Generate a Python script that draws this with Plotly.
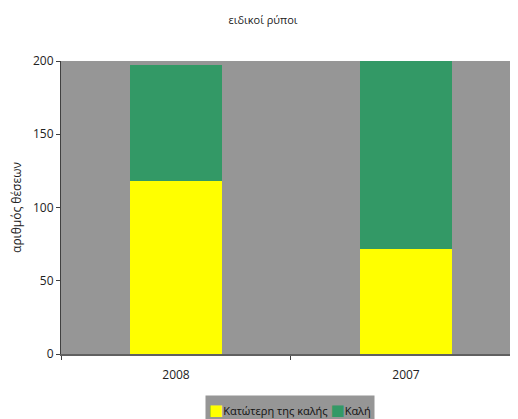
import plotly.graph_objects as go

categories = ["2008", "2007"]
below_good = [118, 72]
good = [79, 130]
series_names = ["Κατώτερη της καλής", "Καλή"]
series_colors = ["#FFFF00", "#339966"]
y_ticks = [0, 50, 100, 150, 200]

fig = go.Figure()
fig.add_trace(go.Bar(x=categories, y=below_good, name=series_names[0],
                     marker=dict(color=series_colors[0], line=dict(width=0)), width=0.4))
fig.add_trace(go.Bar(x=categories, y=good, name=series_names[1],
                     marker=dict(color=series_colors[1], line=dict(width=0)), width=0.4))

font = "Open Sans, DejaVu Sans, sans-serif"
legend_text = " ".join(
    f"<span style='color:{c};font-size:15px'>■</span>{n}" for n, c in zip(series_names, series_colors)
)
W, H = 510, 411
L, T, B = 53, 53, 65
PH = H - T - B
fig.update_layout(
    width=W, height=H,
    barmode="stack",
    paper_bgcolor="white",
    plot_bgcolor="#969696",
    margin=dict(l=L, r=0, t=T, b=B),
    font=dict(family=font, size=11, color="#222222"),
    title=dict(text="ειδικοί ρύποι", x=255/W, xanchor="center", y=1-12/H, yanchor="middle",
               font=dict(size=11, color="#222222")),
    showlegend=False,
    annotations=[dict(
        text=legend_text, xref="paper", yref="paper",
        x=(282-L)/(W-L), xanchor="center", y=-(401-(T+PH))/PH, yanchor="middle",
        showarrow=False, bgcolor="#969696", borderpad=3,
        font=dict(size=11, color="#111111"),
    )],
)
fig.update_xaxes(
    type="category", range=[-0.5, 1.487],
    showline=True, linecolor="#606060", linewidth=2,
    ticks="outside", tickson="boundaries", ticklen=4, tickcolor="#404040", tickwidth=1,
    showgrid=False, tickfont=dict(size=12, color="#222222"), ticklabelstandoff=9,
)
fig.update_yaxes(
    range=[0, 200], tickvals=y_ticks,
    showline=True, linecolor="#404040", linewidth=1,
    ticks="outside", ticklen=4, tickcolor="#404040",
    showgrid=False, zeroline=False,
    title=dict(text="αριθμός θέσεων", font=dict(size=12, color="#222222"), standoff=10),
    tickfont=dict(size=12, color="#222222"),
)
fig.write_html("out.html")
